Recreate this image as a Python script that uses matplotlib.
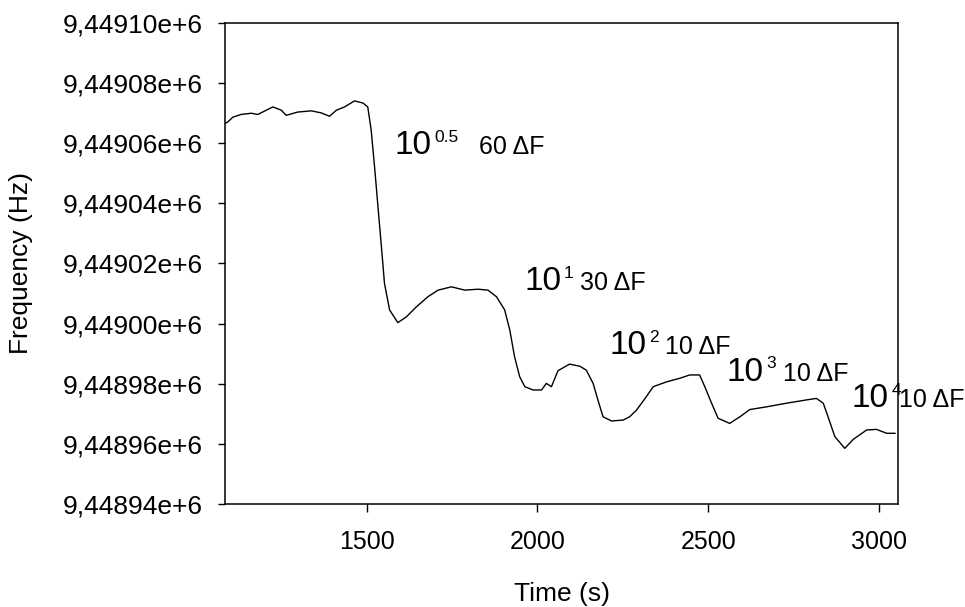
import numpy as np
import matplotlib
matplotlib.use("Agg")
import matplotlib.pyplot as plt
from matplotlib.ticker import FuncFormatter

plt.rcParams['font.family'] = ['Liberation Sans', 'DejaVu Sans']

# frequency trace (time in s, frequency in Hz)
time_s = [1085, 1093, 1108, 1132, 1162, 1181, 1225, 1250, 1264, 1298,
          1338, 1367, 1391, 1411, 1435, 1464, 1489, 1503, 1513, 1523,
          1533, 1543, 1552, 1567, 1591, 1616, 1645, 1679, 1709, 1748,
          1787, 1826, 1855, 1880, 1904, 1919, 1933, 1948, 1963, 1987,
          2012, 2026, 2041, 2060, 2094, 2124, 2143, 2163, 2177, 2192,
          2217, 2251, 2270, 2290, 2319, 2339, 2378, 2417, 2446, 2475,
          2490, 2510, 2529, 2563, 2593, 2622, 2671, 2729, 2788, 2817,
          2837, 2851, 2871, 2900, 2925, 2964, 2993, 3023, 3047]
freq_hz = [9449066.5, 9449067.0, 9449068.6, 9449069.5, 9449069.9, 9449069.5,
           9449072.0, 9449070.9, 9449069.2, 9449070.3, 9449070.7, 9449070.0,
           9449068.9, 9449070.9, 9449072.0, 9449074.0, 9449073.3, 9449072.0,
           9449064.3, 9449052.0, 9449038.7, 9449025.5, 9449013.3, 9449004.5,
           9449000.3, 9449002.2, 9449005.5, 9449008.9, 9449011.1, 9449012.2,
           9449011.1, 9449011.4, 9449011.1, 9449008.9, 9449004.5, 9448997.8,
           9448988.9, 9448982.3, 9448979.0, 9448977.9, 9448977.9, 9448980.1,
           9448979.0, 9448984.3, 9448986.5, 9448985.8, 9448984.5, 9448980.1,
           9448974.6, 9448969.0, 9448967.6, 9448967.9, 9448969.0, 9448971.2,
           9448975.7, 9448979.0, 9448980.6, 9448981.8, 9448982.9, 9448982.9,
           9448979.0, 9448973.5, 9448968.5, 9448966.8, 9448969.0, 9448971.4,
           9448972.3, 9448973.5, 9448974.6, 9448975.1, 9448973.5, 9448969.0,
           9448962.4, 9448958.5, 9448961.5, 9448964.6, 9448964.8, 9448963.5,
           9448963.5]

# dilution steps and the frequency shift noted next to each one
dilution_exp = ['0.5', '1', '2', '3', '4']
shift_labels = ['60 \u0394F', '30 \u0394F', '10 \u0394F', '10 \u0394F', '10 \u0394F']

# where each label sits: (time of "10", freq of baseline, time of shift text)
label_pos = [(1582, 9449056.3, 1828),
             (1962, 9449011.1, 2124),
             (2212, 9448989.8, 2373),
             (2553, 9448981.0, 2719),
             (2920, 9448972.1, 3059)]

fig = plt.figure(figsize=(9.65, 6.07), dpi=100)
ax = fig.add_axes([0.2332, 0.1697, 0.6974, 0.7929])

ax.plot(time_s, freq_hz, color='black', lw=1.0)

ax.set_xlim(1085, 3056)
ax.set_ylim(9448940, 9449100)
ax.set_xticks([1500, 2000, 2500, 3000])
ax.set_yticks(np.arange(9448940, 9449101, 20))


def comma_sci(v, pos):
    return ('%.5f' % (v / 1e6)).replace('.', ',') + 'e+6'


ax.yaxis.set_major_formatter(FuncFormatter(comma_sci))
ax.tick_params(axis='both', direction='out', width=1, colors='black')
ax.tick_params(axis='x', length=6, pad=13, labelsize=18)
ax.tick_params(axis='y', length=5, pad=11, labelsize=19)
for sp in ax.spines.values():
    sp.set_linewidth(1.1)

ax.set_xlabel('Time (s)', fontsize=19)
ax.xaxis.label.set_verticalalignment('baseline')
ax.xaxis.set_label_coords(0.5, -0.201)
ax.set_ylabel('Frequency (Hz)', fontsize=19)
ax.yaxis.label.set_verticalalignment('baseline')
ax.yaxis.set_label_coords(-0.293, 0.5)

for exp, shift, (tx, fy, ts) in zip(dilution_exp, shift_labels, label_pos):
    ax.text(tx, fy, '10', fontsize=24, ha='left', va='baseline')
    ax.annotate(exp, xy=(tx, fy), xytext=(28.5, 9), textcoords='offset points',
                fontsize=12.5, ha='left', va='baseline')
    ax.text(ts, fy, shift, fontsize=18, ha='left', va='baseline', clip_on=False)

fig.savefig('out.png', dpi=100)
